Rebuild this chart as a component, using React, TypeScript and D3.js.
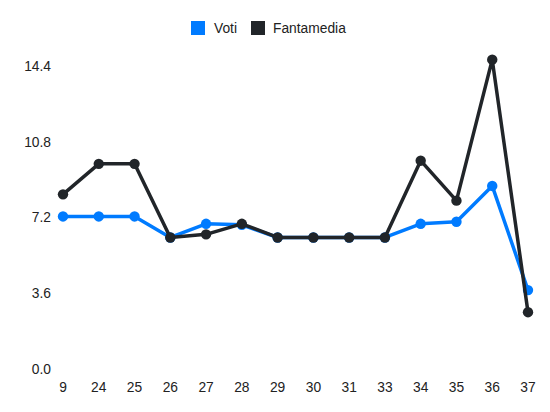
import * as d3 from "d3";

const giornate = ["9", "24", "25", "26", "27", "28", "29", "30", "31", "33", "34", "35", "36", "37"];
const voti = [7.25, 7.25, 7.25, 6.25, 6.9, 6.85, 6.25, 6.25, 6.25, 6.25, 6.9, 7.0, 8.7, 3.75];
const fantamedia = [8.3, 9.75, 9.75, 6.25, 6.4, 6.9, 6.25, 6.25, 6.25, 6.25, 9.9, 8.0, 14.7, 2.7];
const yTicks = [0, 3.6, 7.2, 10.8, 14.4];

const series = [
  { name: "Voti", color: "#007bff", values: voti },
  { name: "Fantamedia", color: "#212529", values: fantamedia },
];

const width = 550;
const height = 412;
const font = "'Liberation Sans', Arial, Helvetica, sans-serif";

export default function App() {
  const x = d3.scalePoint<string>().domain(giornate).range([63, 528]);
  const y = d3.scaleLinear().domain([0, 14.4]).range([369, 66]);
  const line = d3
    .line<number>()
    .x((_, i) => x(giornate[i]) ?? 0)
    .y((d) => y(d));

  const legendX = [191, 251];
  const legendText = [214, 273];

  return (
    <svg
      width={width}
      height={height}
      viewBox={`0 0 ${width} ${height}`}
      style={{ position: "absolute", left: 0, top: 0, background: "#fff" }}
      fontFamily={font}
    >
      {/* legend */}
      {series.map((s, i) => (
        <g key={s.name}>
          <rect x={legendX[i]} y={21} width={14} height={14} fill={s.color} />
          <text x={legendText[i]} y={28} dy="0.35em" fontSize={13.8} fill="#222">
            {s.name}
          </text>
        </g>
      ))}

      {/* y ticks */}
      {yTicks.map((t) => (
        <text key={t} x={51} y={y(t)} dy="0.35em" textAnchor="end" fontSize={13.8} fill="#222">
          {t.toFixed(1)}
        </text>
      ))}

      {/* x ticks */}
      {giornate.map((g) => (
        <text key={g} x={x(g)} y={387} dy="0.35em" textAnchor="middle" fontSize={13.8} fill="#222">
          {g}
        </text>
      ))}

      {/* lines and points */}
      {series.map((s) => (
        <g key={s.name}>
          <path d={line(s.values) ?? ""} fill="none" stroke={s.color} strokeWidth={3.5} strokeLinejoin="round" />
          {s.values.map((v, i) => (
            <circle key={i} cx={x(giornate[i])} cy={y(v)} r={5.2} fill={s.color} />
          ))}
        </g>
      ))}
    </svg>
  );
}
